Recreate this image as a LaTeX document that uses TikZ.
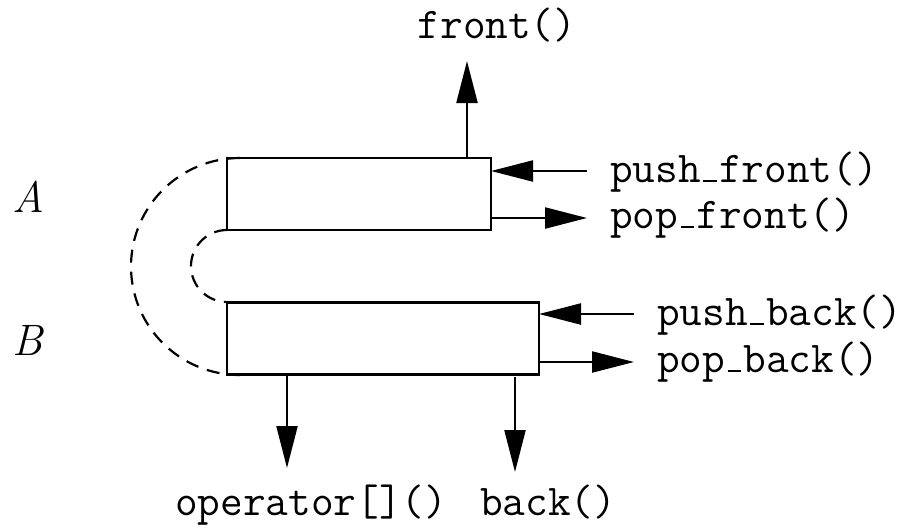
\documentclass[tikz,border=0pt]{standalone}
\usetikzlibrary{arrows.meta}
% classic typewriter-style underscore: a short rule sitting on the baseline
\newcommand\usc{\leavevmode\kern.06em\vbox{\hrule width.3em height 2pt}\kern.06em}
\begin{document}
\begin{tikzpicture}[x=1pt,y=-1pt,line width=2.2pt,
  blk/.style={draw,minimum height=72pt,inner sep=0pt,outer sep=0pt},
  fn/.style={font=\fontsize{44}{52}\selectfont\ttfamily,inner sep=0pt},
  tag/.style={font=\fontsize{44}{52}\selectfont\itshape,inner sep=0pt},
  arr/.style={-{Triangle[length=42pt,width=21pt]}},
  link/.style={dash pattern=on 13pt off 9pt}]
\useasboundingbox (0,0) rectangle (909,531);

% the two halves of the deque
\node[blk,minimum width=264pt] (boxA) at (359,194) {};
\node[blk,minimum width=312pt] (boxB) at (383,338.5) {};

% side labels
\node[tag,anchor=base west] (labA) at (11,212) {A};
\node[tag,anchor=base west] (labB) at (11,355) {B};

% dashed links joining the halves
\draw[link] (240,158) arc[start angle=270,end angle=90,x radius=109,y radius=108.5];
\draw[link] (boxA.south west) arc[start angle=270,end angle=90,radius=36];

% operation labels
\node[fn,anchor=base] (front) at (497,38) {front()};
\node[fn,anchor=base west] (pushf) at (609,182) {push\usc front()};
\node[fn,anchor=base west] (popf) at (609,228) {pop\usc front()};
\node[fn,anchor=base west] (pushb) at (656,325) {push\usc back()};
\node[fn,anchor=base west] (popb) at (656,372) {pop\usc back()};
\node[fn,anchor=base west] (oper) at (174,515) {operator[]()};
\node[fn,anchor=base west] (back) at (479,515) {back()};

% arrow end points
\coordinate (frontTip) at (467,61);
\coordinate (frontFoot) at (467,158);
\coordinate (pushfS) at (587,171);
\coordinate (popfT) at (587,218);
\coordinate (pushbS) at (634,314);
\coordinate (popbT) at (634,362);
\coordinate (operS) at (287,374);
\coordinate (operT) at (287,468);
\coordinate (backS) at (515,377);
\coordinate (backT) at (515,472);

% arrows
\draw[arr] (frontFoot) -- (frontTip);
\draw[arr] (pushfS) -- (boxA.east |- pushfS);
\draw[arr] (boxA.east |- popfT) -- (popfT);
\draw[arr] (pushbS) -- (boxB.east |- pushbS);
\draw[arr] (boxB.east |- popbT) -- (popbT);
\draw[arr] (operS) -- (operT);
\draw[arr] (backS) -- (backT);
\end{tikzpicture}
\end{document}
